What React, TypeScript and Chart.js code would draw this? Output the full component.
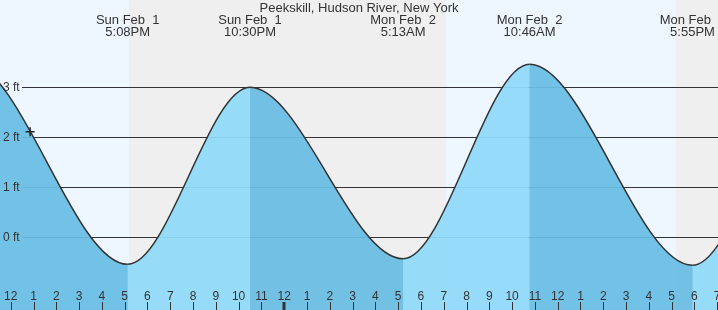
import React, { useEffect, useRef } from "react";
import { Chart, registerables } from "chart.js";

Chart.register(...registerables);

// Time axis: hours since midnight, Sun Feb 1
const chartTitle = "Peekskill, Hudson River, New York";
const xMinHour = 11.53;
const xMaxHour = 43.035;
const yMinFeet = -1.454;
const yMaxFeet = 4.746;

// Tide extremes (including ones just outside the visible window)
const tideHours = [3.6, 10.1, 17.133, 22.5, 29.217, 34.767, 41.917, 47.4, 53.8];
const tideFeet = [-0.4, 3.5, -0.54, 3.0, -0.43, 3.46, -0.56, 3.2, -0.4];

// Labelled extremes
const extremeHours = [17.133, 22.5, 29.217, 34.767, 41.917];
const extremeDays = ["Sun Feb  1", "Sun Feb  1", "Mon Feb  2", "Mon Feb  2", "Mon Feb  2"];
const extremeTimes = ["5:08PM", "10:30PM", "5:13AM", "10:46AM", "5:55PM"];

// Current time marker
const nowHour = [12.85];
const nowFeet = [2.11];

// Day / night bands
const bandStarts = [11.53, 17.19, 31.1, 41.19];
const bandEnds = [17.19, 31.1, 41.19, 43.035];
const bandIsDay = [true, false, true, false];

// Axis ticks
const yTickFeet = [0, 1, 2, 3];
const yTickLabels = ["0 ft", "1 ft", "2 ft", "3 ft"];
const hourTickStart = 12;
const hourTickLabels = [
  "12", "1", "2", "3", "4", "5", "6", "7", "8", "9", "10", "11",
  "12", "1", "2", "3", "4", "5", "6", "7", "8", "9", "10", "11",
  "12", "1", "2", "3", "4", "5", "6", "7",
];
const midnightHours = [24];

const DAY_BG = "#eef7ff";
const NIGHT_BG = "#efefef";
const UNDER_FILL = "rgba(106,189,228,0.75)";
const FALL_FILL = "rgba(106,189,228,0.75)";
const RISE_FILL = "rgba(154,225,255,0.75)";
const TEXT = "#333333";
const FONT = "'Liberation Sans', Arial, sans-serif";

const decorPlugin = {
  id: "tideDecor",
  beforeDatasetsDraw(chart: any) {
    const { ctx, chartArea, scales } = chart;
    const xs = scales.x;
    const ys = scales.y;
    ctx.save();
    for (let i = 0; i < bandStarts.length; i++) {
      const x0 = xs.getPixelForValue(bandStarts[i]);
      const x1 = xs.getPixelForValue(bandEnds[i]);
      ctx.fillStyle = bandIsDay[i] ? DAY_BG : NIGHT_BG;
      ctx.fillRect(Math.round(x0), chartArea.top, Math.round(x1) - Math.round(x0), chartArea.bottom - chartArea.top);
    }
    ctx.strokeStyle = "#333333";
    ctx.lineWidth = 1;
    for (const v of yTickFeet) {
      const y = Math.round(ys.getPixelForValue(v)) + 0.5;
      ctx.beginPath();
      ctx.moveTo(22, y);
      ctx.lineTo(chartArea.right, y);
      ctx.stroke();
    }
    ctx.restore();
  },
  afterDatasetsDraw(chart: any) {
    const { ctx, chartArea, scales } = chart;
    const xs = scales.x;
    const ys = scales.y;
    ctx.save();
    ctx.fillStyle = TEXT;
    // y labels
    ctx.font = `12px ${FONT}`;
    ctx.textAlign = "left";
    ctx.textBaseline = "middle";
    yTickFeet.forEach((v, i) => {
      ctx.fillText(yTickLabels[i], 3, ys.getPixelForValue(v) + 0.5);
    });
    // hour ticks
    ctx.textAlign = "center";
    ctx.textBaseline = "alphabetic";
    ctx.strokeStyle = TEXT;
    hourTickLabels.forEach((lab, i) => {
      const h = hourTickStart + i;
      const x = xs.getPixelForValue(h);
      ctx.fillText(lab, x, 300);
      const thick = midnightHours.includes(h);
      if (thick) {
        ctx.fillRect(Math.round(x) - 1.5, 302, 3, chartArea.bottom - 302);
      } else {
        ctx.beginPath();
        ctx.lineWidth = 1;
        ctx.moveTo(Math.round(x) + 0.5, 302);
        ctx.lineTo(Math.round(x) + 0.5, chartArea.bottom);
        ctx.stroke();
      }
    });
    // title
    ctx.font = `13px ${FONT}`;
    ctx.fillText(chartTitle, (chartArea.left + chartArea.right) / 2, 12);
    // extreme labels
    extremeHours.forEach((h, i) => {
      const x = xs.getPixelForValue(h);
      ctx.fillText(extremeDays[i], x, 24);
      ctx.fillText(extremeTimes[i], x, 36);
    });
    ctx.restore();
  },
};

export default function App() {
  const canvasRef = useRef<HTMLCanvasElement | null>(null);

  useEffect(() => {
    document.body.style.margin = "0";
    const canvas = canvasRef.current;
    if (!canvas) return;
    const tideData = tideHours.map((h, i) => ({ x: h, y: tideFeet[i] }));
    const nowData = nowHour.map((h, i) => ({ x: h, y: nowFeet[i] }));
    const chart = new Chart(canvas, {
      type: "line",
      data: {
        datasets: [
          {
            label: "now",
            data: nowData,
            showLine: false,
            pointStyle: "cross",
            pointRadius: 4.5,
            pointBorderColor: "#222222",
            pointBorderWidth: 1.5,
            borderColor: "#222222",
            fill: false,
            clip: false,
          } as any,
          {
            label: "tide",
            data: tideData,
            borderColor: "#333333",
            borderWidth: 1.5,
            pointRadius: 0,
            cubicInterpolationMode: "monotone",
            fill: "start",
            backgroundColor: FALL_FILL,
            segment: {
              backgroundColor: (c: any) => (c.p1.parsed.y > c.p0.parsed.y ? RISE_FILL : FALL_FILL),
            },
          } as any,
          {
            label: "tide-under",
            data: tideData,
            borderWidth: 0,
            borderColor: "rgba(0,0,0,0)",
            pointRadius: 0,
            cubicInterpolationMode: "monotone",
            fill: "start",
            backgroundColor: UNDER_FILL,
          } as any,
        ],
      },
      options: {
        responsive: false,
        animation: false,
        layout: { padding: 0, autoPadding: false },
        plugins: {
          legend: { display: false },
          title: { display: false },
          tooltip: { enabled: false },
        },
        scales: {
          x: { type: "linear", min: xMinHour, max: xMaxHour, display: false },
          y: { type: "linear", min: yMinFeet, max: yMaxFeet, display: false },
        },
      },
      plugins: [decorPlugin],
    });
    return () => chart.destroy();
  }, []);

  return (
    <div style={{ position: "fixed", left: 0, top: 0, width: 718, height: 310 }}>
      <canvas ref={canvasRef} width={718} height={310} style={{ display: "block", width: 718, height: 310 }} />
    </div>
  );
}
